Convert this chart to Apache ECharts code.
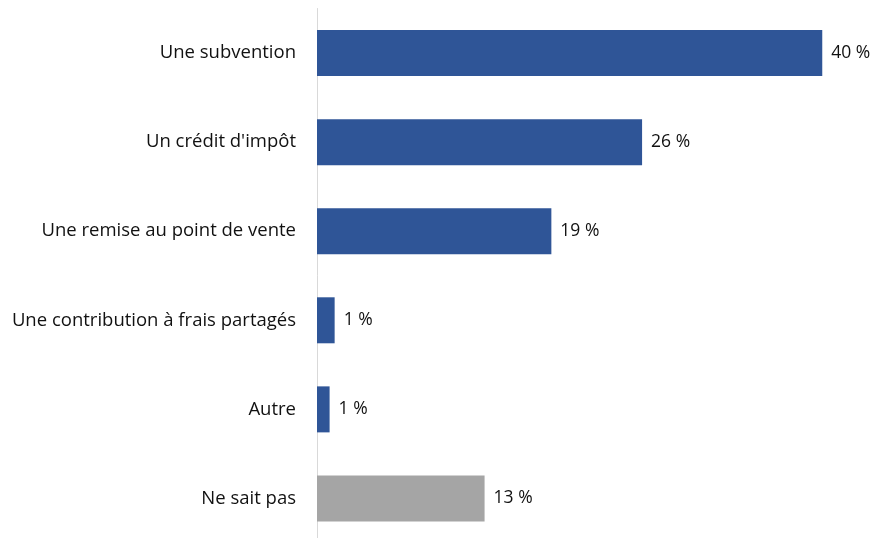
<!DOCTYPE html>
<html>
<head>
<meta charset="utf-8">
<script src="https://cdn.jsdelivr.net/npm/echarts@6/dist/echarts.min.js"></script>
<style>
  html, body { margin: 0; padding: 0; background: #fff; overflow: hidden; }
  #main { width: 874px; height: 543px; }
</style>
</head>
<body>
<div id="main"></div>
<script>
  // catégories (de haut en bas)
  var categories = [
    'Une subvention',
    "Un crédit d'impôt",
    'Une remise au point de vente',
    'Une contribution à frais partagés',
    'Autre',
    'Ne sait pas'
  ];
  // valeurs (%)
  var values = [40.1, 25.8, 18.6, 1.4, 1.0, 13.3];
  var labels = ['40 %', '26 %', '19 %', '1 %', '1 %', '13 %'];
  var colors = ['#2F5597', '#2F5597', '#2F5597', '#2F5597', '#2F5597', '#A5A5A5'];

  var chart = echarts.init(document.getElementById('main'));
  var option = {
    animation: false,
    textStyle: { fontFamily: '"Open Sans", sans-serif' },
    grid: { left: 317, right: 27.8, top: 8.5, bottom: 0, containLabel: false },
    xAxis: {
      type: 'value',
      min: 0,
      max: 42,
      show: false
    },
    yAxis: {
      type: 'category',
      inverse: true,
      data: categories,
      axisLine: { show: true, lineStyle: { color: '#D9D9D9', width: 1 } },
      axisTick: { show: false },
      axisLabel: { color: '#111', fontSize: 18.5, margin: 21 }
    },
    series: [
      {
        type: 'bar',
        barWidth: 46,
        data: values.map(function (v, i) {
          return { value: v, itemStyle: { color: colors[i] } };
        }),
        label: {
          show: true,
          position: 'right',
          distance: 9,
          color: '#111',
          fontSize: 17.5,
          formatter: function (p) { return labels[p.dataIndex]; }
        }
      }
    ]
  };
  chart.setOption(option);
</script>
</body>
</html>
